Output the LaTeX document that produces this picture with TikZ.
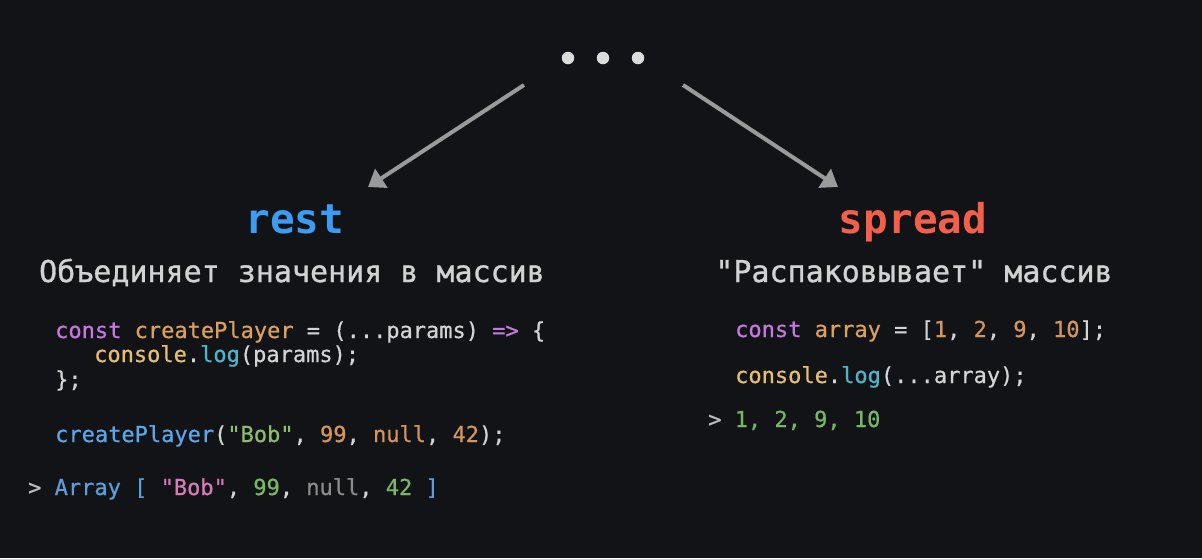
\documentclass[tikz,border=0pt]{standalone}
\usepackage{fontspec}
\setmonofont{DejaVu Sans Mono}
\newfontfamily\codefont{DejaVu Sans Mono}[FakeBold=0.6]
\newfontfamily\subfont{DejaVu Sans Mono}[FakeBold=1.0]
\usetikzlibrary{arrows.meta}
\definecolor{bg}{HTML}{121317}
\definecolor{arrowgray}{HTML}{9A9A9A}
\definecolor{dotc}{HTML}{DCDCDC}
\definecolor{restc}{HTML}{3A9CF2}
\definecolor{spreadc}{HTML}{F2604C}
\definecolor{subc}{HTML}{D2D2D2}
\definecolor{kw}{HTML}{C678DD}
\definecolor{var}{HTML}{D9A05E}
\definecolor{cons}{HTML}{E5BE72}
\definecolor{fn}{HTML}{4FB4C8}
\definecolor{plain}{HTML}{D4D4D4}
\definecolor{call}{HTML}{5AA6E6}
\definecolor{str}{HTML}{8DBB6E}
\definecolor{num}{HTML}{D3955C}
\definecolor{outblue}{HTML}{5A9FDA}
\definecolor{outpink}{HTML}{D67AB8}
\definecolor{outgreen}{HTML}{76B765}
\definecolor{outgray}{HTML}{8C8C8C}
\definecolor{prompt}{HTML}{BDBDBD}
\newcommand\cc[2]{\textcolor{#1}{#2}}
\tikzset{
  code/.style={anchor=base west, inner sep=0pt, font=\codefont\fontsize{22}{26}\selectfont, text=plain},
  head/.style={anchor=base, inner sep=0pt, font=\ttfamily\bfseries\fontsize{41}{48}\selectfont},
  sub/.style={anchor=base, inner sep=0pt, font=\subfont\fontsize{30}{36}\selectfont, text=subc},
  arr/.style={draw=arrowgray, line width=4pt, -{Triangle[length=16pt,width=22pt]}},
  dot/.style={circle, fill=dotc, minimum size=12.5pt, inner sep=0pt}
}
\begin{document}
\begin{tikzpicture}[x=1pt,y=-1pt]
\fill[bg] (0,0) rectangle (1202,558);
\useasboundingbox (0,0) rectangle (1202,558);
% dots
\node[dot] (d1) at (568,58) {};
\node[dot] (d2) at (603,58) {};
\node[dot] (d3) at (638,58) {};
% arrows
\coordinate (ls) at (524,85);
\coordinate (le) at (368,187);
\coordinate (rs) at (683,85);
\coordinate (re) at (838,187);
\draw[arr] (ls) -- (le);
\draw[arr] (rs) -- (re);
% headings
\node[head, text=restc] (rest) at (295,233) {rest};
\node[head, text=spreadc] (spread) at (913,233) {spread};
\node[sub] (lsub) at (292,282) {Объединяет значения в массив};
\node[sub] (rsub) at (914,282) {"Распаковывает" массив};
% left code
\node[code] (l1) at (55,338) {\cc{kw}{const} \cc{var}{createPlayer} = (...params) \cc{kw}{=>} \{};
\node[code] (l2) at (94,362) {\cc{cons}{console}.\cc{fn}{log}(params);};
\node[code] (l3) at (55,387) {\};};
\node[code] (l4) at (55,442) {\cc{call}{createPlayer}(\cc{str}{"Bob"}, \cc{num}{99}, \cc{num}{null}, \cc{num}{42});};
\node[code] (l5) at (28,495) {\cc{prompt}{>} \cc{outblue}{Array [} \cc{outpink}{"Bob"}, \cc{outgreen}{99}, \cc{outgray}{null}, \cc{outgreen}{42} \cc{outblue}{]}};
% right code
\node[code] (r1) at (735,337) {\cc{kw}{const} \cc{var}{array} = [\cc{num}{1}, \cc{num}{2}, \cc{num}{9}, \cc{num}{10}];};
\node[code] (r2) at (735,383) {\cc{cons}{console}.\cc{fn}{log}(...array);};
\node[code] (r3) at (708,427) {\cc{prompt}{>} \cc{outgreen}{1, 2, 9, 10}};
\end{tikzpicture}
\end{document}
